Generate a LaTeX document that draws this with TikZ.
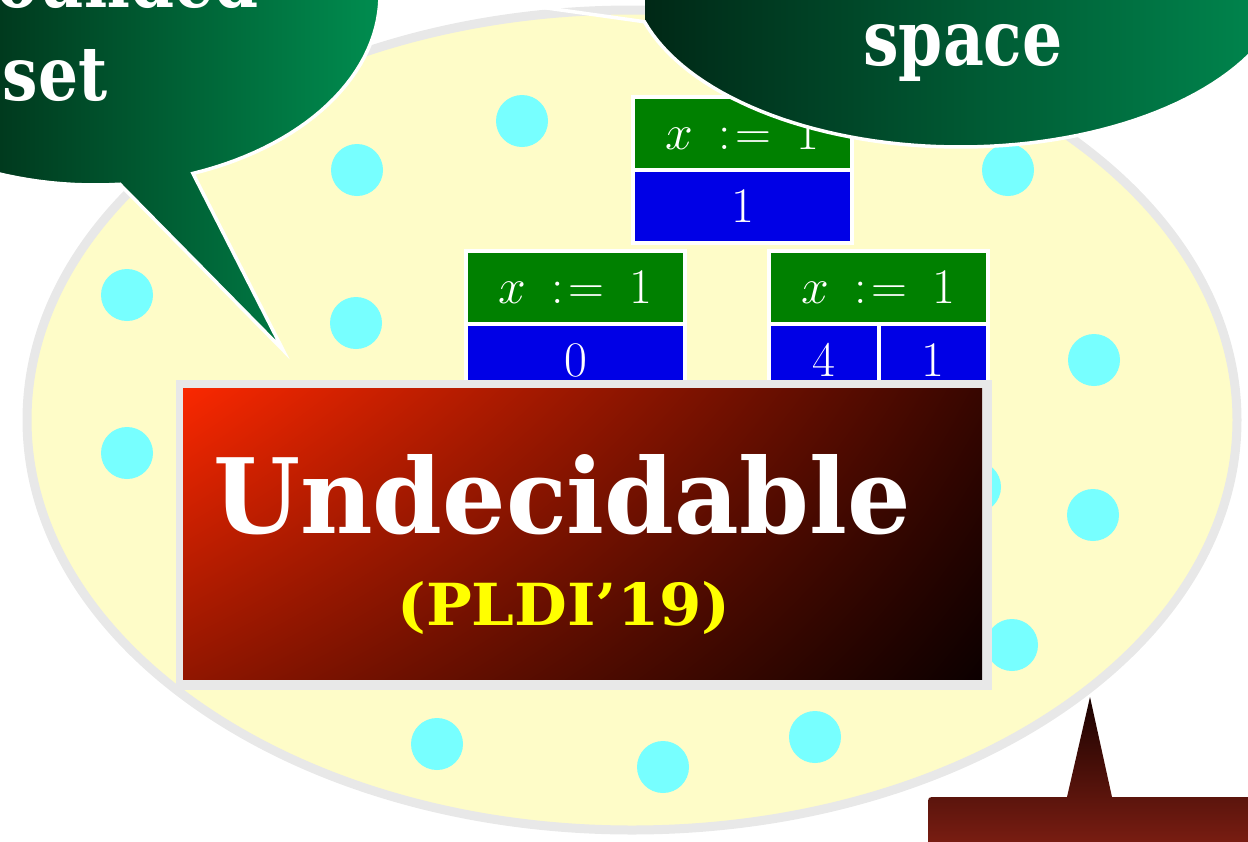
\documentclass[tikz,border=0pt]{standalone}
\usepackage{fontspec}
\usepackage{graphicx}
\usetikzlibrary{shadings}
\newfontfamily\slab{DejaVu Serif}
\newcommand{\cellmath}[1]{\scalebox{2}{\fontsize{25}{30}\selectfont$#1$}}
\newcommand{\assignop}{\mathrel{\mkern4mu{:}\mkern2mu{=}\mkern4mu}}
\definecolor{ellfill}{RGB}{254,252,200}
\definecolor{ellline}{RGB}{232,232,232}
\definecolor{dotc}{RGB}{119,255,255}
\definecolor{boxgreen}{RGB}{0,128,0}
\definecolor{boxblue}{RGB}{0,0,230}
\definecolor{cgAl}{RGB}{0,58,30}
\definecolor{cgAr}{RGB}{0,142,80}
\definecolor{cgBl}{RGB}{0,40,22}
\definecolor{cgBr}{RGB}{0,138,80}
\definecolor{redUL}{RGB}{250,40,0}
\definecolor{redUR}{RGB}{55,6,0}
\definecolor{redLL}{RGB}{145,22,0}
\definecolor{redLR}{RGB}{12,0,0}
\definecolor{frameg}{RGB}{232,232,232}
\definecolor{brtop}{RGB}{26,2,0}
\definecolor{brbot}{RGB}{132,32,20}
\definecolor{plyellow}{RGB}{255,255,0}
\tikzset{
  dotn/.style={circle, fill=dotc, minimum size=52pt, inner sep=0pt},
  cellbox/.style={rectangle, draw=white, line width=4pt, text=white, inner sep=0pt,
     minimum height=73pt},
  gcell/.style={cellbox, fill=boxgreen, minimum width=219pt},
  bcell/.style={cellbox, fill=boxblue, minimum width=219pt},
  hcell/.style={cellbox, fill=boxblue, minimum width=109.5pt},
  slabtext/.style={inner sep=0pt, anchor=base, text=white},
}
\def\calloutA{plot[domain=69.9:-275, samples=150] ({95+285*cos(\x)},{-5+190*sin(\x)}) -- (283,350) -- cycle}
\def\calloutB{plot[domain=163:-170, samples=150] ({960+330*cos(\x)},{-30+177*sin(\x)}) -- (440,-7) -- cycle}
\begin{document}
\begin{tikzpicture}[x=1pt,y=-1pt]
\useasboundingbox (0,0) rectangle (1248,841);
\clip (0,0) rectangle (1248,841);
% big ellipse
\draw[ellline, line width=9pt, fill=ellfill] (632,420) ellipse [x radius=605, y radius=410];
% dots
\foreach \p [count=\i] in {(522,121),(357,170),(127,295),(356,323),(127,453),(1008,170),(1094,360),(1093,515),(1012,645),(437,744),(663,767),(815,737),(975,487)}
  \node[dotn] (dot\i) at \p {};
% value boxes
\node[gcell] (topg) at (742.5,133.5) {\cellmath{x \assignop 1}};
\node[bcell] (topb) at (742.5,206.5) {\cellmath{1}};
\node[gcell] (leftg) at (575.5,287.5) {\cellmath{x \assignop 1}};
\node[bcell] (leftb) at (575.5,360.5) {\cellmath{0}};
\node[gcell] (rightg) at (878.5,287.5) {\cellmath{x \assignop 1}};
\node[hcell] (rightb1) at (823.75,360.5) {\cellmath{4}};
\node[hcell] (rightb2) at (933.25,360.5) {\cellmath{1}};
% red box
\fill[frameg] (176,380) rectangle (992,690);
\shade[upper left=redUL, upper right=redUR, lower left=redLL, lower right=redLR] (183,388) rectangle (982,679);
\node[slabtext] (und) at (562,533) {\scalebox{0.96}[1]{\fontsize{104}{120}\selectfont\slab\bfseries Undecidable}};
\node[slabtext, text=plyellow] (pldi) at (564,625) {\scalebox{1.05}[1]{\fontsize{58}{70}\selectfont\slab\bfseries (PLDI’19)}};
% top-left callout
\begin{scope}
  \clip \calloutA;
  \shade[left color=cgAl, right color=cgAr] (0,-200) rectangle (385,360);
\end{scope}
\draw[white, line width=3.5pt] \calloutA;
\node[slabtext] (ca1) at (55,7) {\scalebox{0.84}[1]{\fontsize{75}{90}\selectfont\slab\bfseries Unbounded}};
\node[slabtext] (ca2) at (55,100) {\scalebox{0.84}[1]{\fontsize{75}{90}\selectfont\slab\bfseries set}};
% top-right callout
\begin{scope}
  \clip \calloutB;
  \shade[left color=cgBl, right color=cgBr] (645,-210) rectangle (1295,150);
\end{scope}
\draw[white, line width=3.5pt] \calloutB;
\node[slabtext] (cb) at (963,65) {\scalebox{0.82}[1]{\fontsize{77}{90}\selectfont\slab\bfseries space}};
% bottom-right callout
\shade[top color=brtop, bottom color=brbot] (928,860) -- (928,805) .. controls (928,797) .. (936,797) -- (1067,797) -- (1090,697) -- (1112,797) -- (1260,797) -- (1260,860) -- cycle;
\end{tikzpicture}
\end{document}
